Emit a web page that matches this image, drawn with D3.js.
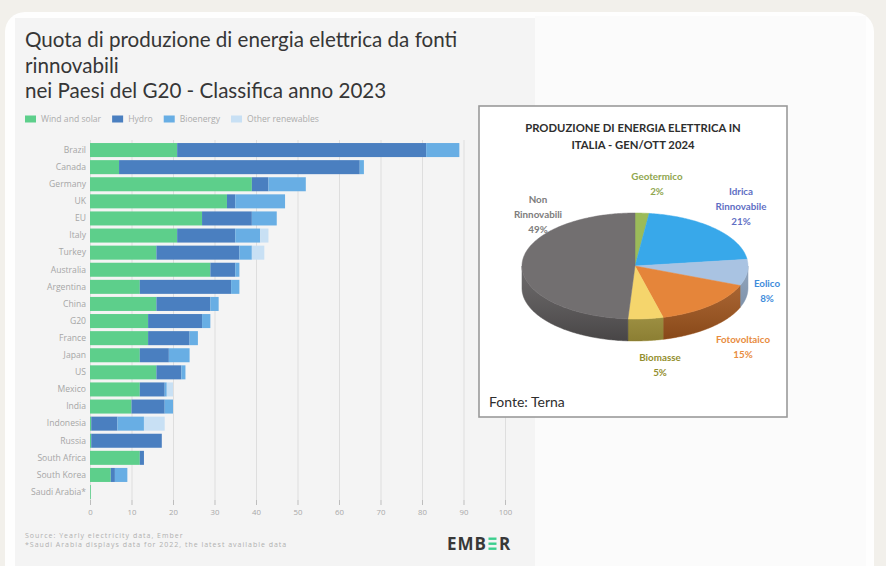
<!DOCTYPE html>
<html>
<head>
<meta charset="utf-8">
<script src="https://cdn.jsdelivr.net/npm/d3@7"></script>
<style>
  html, body { margin: 0; padding: 0; background: #f2f0eb; }
  svg { display: block; font-family: "Open Sans", sans-serif; }
</style>
</head>
<body>
<svg id="chart" width="886" height="566"></svg>
<script>
// ---- Renewable share of electricity generation, G20, 2023 (% of total) ----
const countries = ["Brazil", "Canada", "Germany", "UK", "EU", "Italy", "Turkey", "Australia",
  "Argentina", "China", "G20", "France", "Japan", "US", "Mexico", "India", "Indonesia",
  "Russia", "South Africa", "South Korea", "Saudi Arabia*"];
const windSolar       = [21, 7, 39, 33, 27, 21, 16, 29, 12, 16, 14, 14, 12, 16, 12, 10, 0.3, 0.3, 12, 5, 0.2];
const hydro           = [60, 58, 4, 2, 12, 14, 20, 6, 22, 13, 13, 10, 7, 6, 6, 8, 6.3, 17, 1, 1, 0];
const bioenergy       = [8, 1, 9, 12, 6, 6, 3, 1, 2, 2, 2, 2, 5, 1, 0.5, 2, 6.4, 0, 0, 3, 0];
const otherRenewables = [0, 0, 0, 0, 0, 2, 3, 0, 0, 0, 0, 0, 0, 0, 1.5, 0, 5, 0, 0, 0, 0];
const seriesNames = ["Wind and solar", "Hydro", "Bioenergy", "Other renewables"];
const xTicks = [0, 10, 20, 30, 40, 50, 60, 70, 80, 90, 100];
const titleLines = ["Quota di produzione di energia elettrica da fonti", "rinnovabili",
  "nei Paesi del G20 - Classifica anno 2023"];
const sourceLines = ["Source: Yearly electricity data, Ember",
  "*Saudi Arabia displays data for 2022, the latest available data"];

// ---- Italy, electricity production by source, Jan-Oct 2024 (%) ----
const pieNames  = ["Geotermico", "Idrica Rinnovabile", "Eolico", "Fotovoltaico", "Biomasse", "Non Rinnovabili"];
const pieValues = [2, 21, 8, 15, 5, 49];
const pieTitleLines = ["PRODUZIONE DI ENERGIA ELETTRICA IN", "ITALIA - GEN/OTT 2024"];

// ---- styles ----
const seriesColors = ["#5dcf8b", "#4a7fc0", "#68aee4", "#c8e0f4"];
const pieTopColors  = ["#9bbb59", "#38a8ea", "#a9c3e2", "#e5853a", "#f5d56c", "#726f70"];
const pieSideColors = ["#6f8a3a", "#2178b0", "#8198b4", "#a4561c", "#aa9a3e", "#575455"];
const pieTextColors = ["#8fa64e", "#5f6fc4", "#3f8cdb", "#e88c40", "#938e2e", "#7d7d7d"];
const pieLabelAt = [[657, 176], [741, 191], [767, 283], [743, 339], [660, 357], [538, 199]];

const svg = d3.select("#chart");

// page background and panels
svg.append("rect").attr("width", 886).attr("height", 566).attr("fill", "#f2f0eb");
svg.append("rect").attr("x", 5).attr("y", 12).attr("width", 869).attr("height", 600)
  .attr("rx", 20).attr("fill", "#fefefe");
svg.append("rect").attr("x", 535).attr("y", 16).attr("width", 331).attr("height", 560).attr("fill", "#fbfbfb");
svg.append("rect").attr("x", 15).attr("y", 18).attr("width", 520).attr("height", 560).attr("fill", "#f4f4f4");

// title
const title = svg.append("text").attr("font-family", "Lato").attr("font-size", 20.6).attr("fill", "#363636");
titleLines.forEach((t, i) => title.append("tspan").attr("x", 25).attr("y", 47 + i * 25.5).text(t));

// legend
const color = d3.scaleOrdinal(seriesNames, seriesColors);
let lx = 25;
seriesNames.forEach(name => {
  svg.append("rect").attr("x", lx).attr("y", 115.5).attr("width", 11).attr("height", 7).attr("fill", color(name));
  const t = svg.append("text").attr("x", lx + 16).attr("y", 122).attr("font-size", 8.6)
    .attr("fill", "#acacac").text(name);
  lx += 16 + t.node().getComputedTextLength() + 11;
});

// scales
const x = d3.scaleLinear().domain([0, 100]).range([90, 505]);
const y = d3.scaleBand().domain(countries).range([141.5, 500.6]).paddingInner(0.18).paddingOuter(0.09);

// grid
const grid = svg.append("g").attr("transform", "translate(0,500)")
  .call(d3.axisBottom(x).tickValues(xTicks).tickSize(-360).tickFormat(""));
grid.select(".domain").remove();
grid.selectAll("line").attr("stroke", "#dedede");

// stacked bars
const table = countries.map((c, i) => ({
  country: c,
  "Wind and solar": windSolar[i], "Hydro": hydro[i],
  "Bioenergy": bioenergy[i], "Other renewables": otherRenewables[i]
}));
const stacked = d3.stack().keys(seriesNames)(table);
svg.append("g").selectAll("g").data(stacked).join("g")
  .attr("fill", d => color(d.key))
  .selectAll("rect").data(d => d).join("rect")
  .attr("x", d => x(d[0]))
  .attr("width", d => Math.max(0, x(d[1]) - x(d[0])))
  .attr("y", d => y(d.data.country))
  .attr("height", y.bandwidth());

// country labels
const yAxis = svg.append("g").attr("transform", "translate(86,0)")
  .call(d3.axisLeft(y).tickSize(0).tickPadding(0));
yAxis.select(".domain").remove();
yAxis.selectAll("text").attr("font-size", 8.6).attr("fill", "#a6a6a6").attr("font-family", "Open Sans");

// x axis
const xAxis = svg.append("g").attr("transform", "translate(0,500)")
  .call(d3.axisBottom(x).tickValues(xTicks).tickSize(5).tickPadding(4));
xAxis.select(".domain").remove();
xAxis.selectAll("line").attr("stroke", "#bdbdbd");
xAxis.selectAll("text").attr("font-size", 7.8).attr("fill", "#a8a8a8").attr("font-family", "Open Sans");

// source notes
sourceLines.forEach((t, i) => svg.append("text").attr("x", 25).attr("y", 538 + i * 8.6)
  .attr("font-size", 7).attr("letter-spacing", 1).attr("fill", "#b0b0b0").text(t));

// EMBER wordmark
const logo = svg.append("g").attr("font-family", "Open Sans").attr("font-weight", 700)
  .attr("font-size", 17).attr("fill", "#383838");
const emb = logo.append("text").attr("x", 447).attr("y", 549.5).attr("letter-spacing", 1).text("EMB");
const lxE = 447 + emb.node().getComputedTextLength() + 1.5;
[0, 1, 2].forEach(k => logo.append("rect").attr("x", lxE).attr("y", 537.5 + k * 5)
  .attr("width", 8).attr("height", 2.4).attr("fill", "#3ccf8e"));
logo.append("text").attr("x", lxE + 10.5).attr("y", 549.5).text("R");

// ---- pie panel ----
svg.append("rect").attr("x", 479).attr("y", 106).attr("width", 308).attr("height", 311)
  .attr("fill", "#ffffff").attr("stroke", "#9a9a9a").attr("stroke-width", 1.6);

const pt = svg.append("text").attr("font-family", "Lato").attr("font-weight", 700)
  .attr("font-size", 11.3).attr("fill", "#2e2e2e").attr("text-anchor", "middle");
pieTitleLines.forEach((t, i) => pt.append("tspan").attr("x", 633).attr("y", 132 + i * 17).text(t));

const cx = 635, cy = 266, rx = 113, ry = 53, depth = 22;
const arcs = d3.pie().sort(null).value(d => d)(pieValues);
const at = (a, dz) => [cx + rx * Math.sin(a), cy - ry * Math.cos(a) + dz];
const rim = (a0, a1, dz) => {
  const n = Math.max(2, Math.ceil((a1 - a0) / 0.015));
  return d3.range(n + 1).map(k => at(a0 + (a1 - a0) * k / n, dz));
};
const line = d3.line();
const pieG = svg.append("g");

const defs = svg.append("defs");
const grad = defs.append("linearGradient").attr("id", "sideShade")
  .attr("x1", 0).attr("y1", 0).attr("x2", 0).attr("y2", 1);
grad.append("stop").attr("offset", 0).attr("stop-color", "#ffffff").attr("stop-opacity", 0.12);
grad.append("stop").attr("offset", 1).attr("stop-color", "#000000").attr("stop-opacity", 0.18);

// front walls
arcs.forEach((d, i) => {
  const s = Math.max(d.startAngle, Math.PI / 2), e = Math.min(d.endAngle, 3 * Math.PI / 2);
  if (e <= s) return;
  const pts = rim(s, e, 0).concat(rim(s, e, depth).reverse());
  pieG.append("path").attr("d", line(pts) + "Z").attr("fill", pieSideColors[i])
    .attr("stroke", pieSideColors[i]).attr("stroke-width", 0.5);
});
{
  const s = Math.PI / 2, e = 3 * Math.PI / 2;
  const pts = rim(s, e, 0).concat(rim(s, e, depth).reverse());
  pieG.append("path").attr("d", line(pts) + "Z").attr("fill", "url(#sideShade)");
}
// top faces
arcs.forEach((d, i) => {
  const pts = [[cx, cy]].concat(rim(d.startAngle, d.endAngle, 0));
  pieG.append("path").attr("d", line(pts) + "Z").attr("fill", pieTopColors[i])
    .attr("stroke", pieTopColors[i]).attr("stroke-width", 0.5);
});

// slice labels
arcs.forEach((d, i) => {
  const lines = pieNames[i].split(" ").concat([`${pieValues[i]}%`]);
  const t = svg.append("text").attr("font-family", "Lato").attr("font-weight", 700)
    .attr("font-size", 9.8).attr("fill", pieTextColors[i]).attr("text-anchor", "middle");
  lines.forEach((s, k) => t.append("tspan").attr("x", pieLabelAt[i][0])
    .attr("y", pieLabelAt[i][1] + 3.5 + k * 15.3).text(s));
});

svg.append("text").attr("x", 489).attr("y", 407).attr("font-family", "Lato")
  .attr("font-size", 14).attr("fill", "#2e2e2e").text("Fonte: Terna");
</script>
</body>
</html>
